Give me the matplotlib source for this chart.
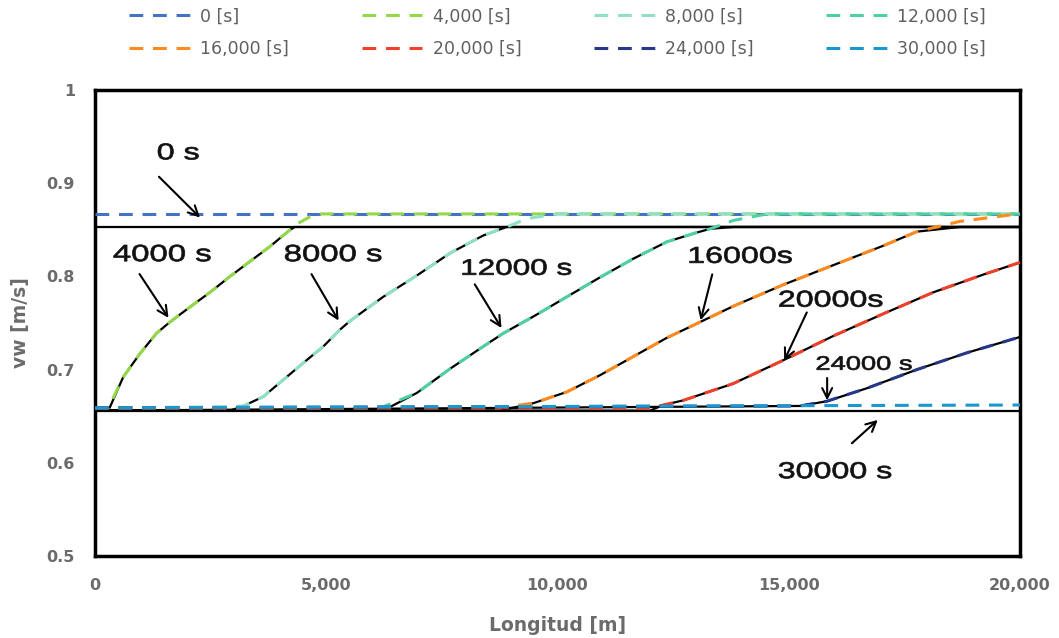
import matplotlib
matplotlib.use("Agg")
import matplotlib.pyplot as plt
import numpy as np
from matplotlib.ticker import FuncFormatter
from matplotlib.textpath import TextPath
from matplotlib.font_manager import FontProperties
from matplotlib.patches import PathPatch
from matplotlib.transforms import Affine2D

# dashed series (x in m, vw in m/s)
x_0 = [0, 20000]
y_0 = [0.867, 0.867]
x_4000 = [0, 290, 610, 970, 1330, 1620, 2050, 2490, 2920, 3350, 3780, 4220, 4320, 4650, 4820, 20000]
y_4000 = [0.659, 0.659, 0.692, 0.717, 0.739, 0.751, 0.767, 0.783, 0.800, 0.816, 0.832, 0.850, 0.855, 0.864, 0.867, 0.867]
x_8000 = [0, 2920, 3210, 3640, 4070, 4500, 4940, 5300, 5510, 6230, 6960, 7680, 8400, 8900, 9340, 9990, 20000]
y_8000 = [0.659, 0.660, 0.661, 0.671, 0.689, 0.707, 0.725, 0.743, 0.752, 0.778, 0.801, 0.825, 0.844, 0.853, 0.862, 0.867, 0.867]
x_12000 = [0, 5950, 6230, 6960, 7680, 8400, 8830, 9480, 10200, 10920, 11640, 12360, 13010, 13300, 13800, 14530, 20000]
y_12000 = [0.659, 0.659, 0.660, 0.675, 0.701, 0.725, 0.739, 0.757, 0.778, 0.799, 0.819, 0.837, 0.847, 0.851, 0.860, 0.867, 0.867]
x_16000 = [0, 8760, 9480, 10200, 10920, 11640, 12360, 12870, 13800, 14880, 15960, 17050, 17770, 18700, 19800, 20000]
y_16000 = [0.659, 0.659, 0.664, 0.676, 0.694, 0.714, 0.734, 0.746, 0.768, 0.791, 0.812, 0.833, 0.848, 0.859, 0.866, 0.867]
x_20000 = [0, 12000, 12290, 12720, 13800, 14880, 15960, 17050, 18130, 19210, 20000]
y_20000 = [0.659, 0.659, 0.662, 0.667, 0.685, 0.710, 0.736, 0.760, 0.783, 0.802, 0.815]
x_24000 = [0, 15240, 15820, 16690, 17770, 18850, 20000]
y_24000 = [0.659, 0.661, 0.666, 0.680, 0.700, 0.718, 0.735]
x_30000 = [0, 20000]
y_30000 = [0.659, 0.662]

labels = ["0 [s]", "4,000 [s]", "8,000 [s]", "12,000 [s]",
          "16,000 [s]", "20,000 [s]", "24,000 [s]", "30,000 [s]"]
colors = ["#4472C4", "#92D84A", "#8EE0C6", "#4FD0A0",
          "#FF8A1E", "#F0402A", "#27378A", "#1B97CF"]
xs = [x_0, x_4000, x_8000, x_12000, x_16000, x_20000, x_24000, x_30000]
ys = [y_0, y_4000, y_8000, y_12000, y_16000, y_20000, y_24000, y_30000]

# black reference curves (from the original figure underneath)
black_low = 0.656
black_high = 0.853

# label, text x, text y, text size (px), arrow tail x, y, arrow head x, y
notes = [("0 s", 1800, 0.934, 23, 1340, 0.909, 2313, 0.861),
         ("4000 s", 1450, 0.825, 23.5, 930, 0.805, 1622, 0.753),
         ("8000 s", 5150, 0.825, 23.5, 4650, 0.805, 5297, 0.750),
         ("12000 s", 9120, 0.810, 22.5, 8180, 0.794, 8821, 0.742),
         ("16000s", 13960, 0.823, 23, 13360, 0.805, 13080, 0.750),
         ("20000s", 15910, 0.776, 23, 15415, 0.764, 14876, 0.707),
         ("24000 s", 16630, 0.707, 19.5, 15830, 0.694, 15830, 0.664),
         ("30000 s", 16000, 0.592, 23, 16320, 0.619, 16970, 0.648)]

fig = plt.figure(figsize=(10.59, 6.38), dpi=100)
ax = fig.add_axes([0.0897, 0.1285, 0.8735, 0.7305])

ax.plot([0, 20000], [black_high, black_high], color="black", lw=1.6, zorder=2)
ax.plot([0, 20000], [black_low, black_low], color="black", lw=1.6, zorder=2)
for x, y in zip(xs[1:7], ys[1:7]):
    y = np.array(y)
    yb = np.clip(y, black_low, black_high)
    yb[y <= 0.6605] = black_low
    ax.plot(x, yb, color="black", lw=1.6, zorder=2)

handles = []
for x, y, c, lab in zip(xs, ys, colors, labels):
    h, = ax.plot(x, y, color=c, lw=2.2, dashes=(4.5, 3.2), label=lab, zorder=3)
    handles.append(h)

ax.set_xlim(0, 20000)
ax.set_ylim(0.5, 1.0)

# the annotation text in the source image is stretched sideways
fp = FontProperties(family="Liberation Sans")
for txt, tx, ty, size, ax0, ay0, ax1, ay1 in notes:
    tp = TextPath((0, 0), txt, size=size, prop=fp)
    bb = tp.get_extents()
    cx, cy = ax.transData.transform((tx, ty))
    tr = (Affine2D().translate(-(bb.x0 + bb.x1) / 2, -(bb.y0 + bb.y1) / 2)
          .scale(1.4, 1.0).translate(cx, cy))
    fig.add_artist(PathPatch(tp, transform=tr, facecolor="#111111",
                             edgecolor="#111111", lw=0.5, zorder=4))
    ax.annotate("", xy=(ax1, ay1), xytext=(ax0, ay0),
                arrowprops=dict(arrowstyle="->", color="black", lw=1.5,
                                mutation_scale=18), zorder=4)

ax.set_xticks([0, 5000, 10000, 15000, 20000])
ax.set_yticks([0.5, 0.6, 0.7, 0.8, 0.9, 1.0])
ax.xaxis.set_major_formatter(FuncFormatter(lambda v, p: f"{int(v):,}"))
ax.yaxis.set_major_formatter(FuncFormatter(lambda v, p: f"{v:g}"))
ax.tick_params(length=0, labelsize=11.5, labelcolor="#6b6b6b")
ax.tick_params(axis="x", pad=15.5)
ax.tick_params(axis="y", pad=14.5)
for lab in ax.get_xticklabels() + ax.get_yticklabels():
    lab.set_family("DejaVu Sans")
    lab.set_fontweight("bold")
for s in ax.spines.values():
    s.set_color("black")
    s.set_linewidth(2.5)

ax.set_xlabel("Longitud [m]", family="DejaVu Sans", fontweight="bold", fontsize=13.5,
              color="#6b6b6b", labelpad=17)
ax.set_ylabel("vw [m/s]", family="DejaVu Sans", fontweight="bold", fontsize=13.5,
              color="#6b6b6b", labelpad=12)

order = [0, 4, 1, 5, 2, 6, 3, 7]
leg = fig.legend([handles[i] for i in order], [labels[i] for i in order],
                 loc="upper center", bbox_to_anchor=(0.5265, 1.013), ncol=4,
                 frameon=False, handlelength=3.5, handletextpad=0.6,
                 columnspacing=4.17, labelspacing=0.85,
                 prop={"family": "DejaVu Sans", "size": 12.5})
for t in leg.get_texts():
    t.set_color("#5f5f5f")

fig.savefig("out.png", dpi=100)
